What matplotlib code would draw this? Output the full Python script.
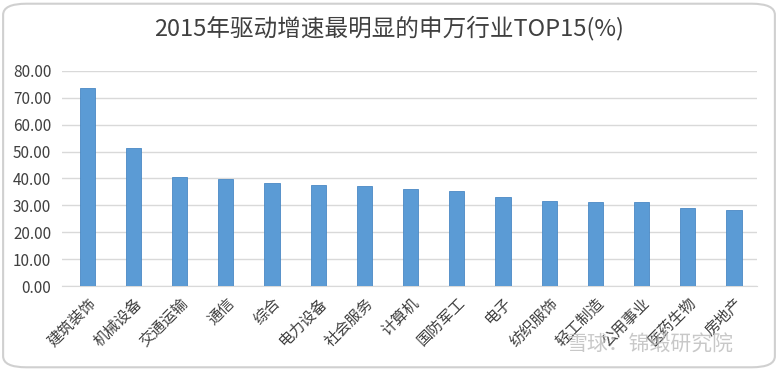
import matplotlib
matplotlib.use('Agg')
import matplotlib.pyplot as plt
from matplotlib.patches import FancyBboxPatch

plt.rcParams['font.family'] = ['Noto Sans CJK SC', 'DejaVu Sans']

# 申万行业及驱动增速(%)
industries = ['建筑装饰', '机械设备', '交通运输', '通信', '综合', '电力设备', '社会服务',
              '计算机', '国防军工', '电子', '纺织服饰', '轻工制造', '公用事业', '医药生物', '房地产']
growth = [73.8, 51.2, 40.5, 39.9, 38.4, 37.6, 37.2, 36.1, 35.4, 33.0, 31.7, 31.3, 31.3, 29.0, 28.1]
yticks = [0, 10, 20, 30, 40, 50, 60, 70, 80]

fig = plt.figure(figsize=(7.78, 3.71), dpi=100)

# 圆角外框
frame = FancyBboxPatch((0.004, 0.01), 0.992, 0.98, boxstyle='round,pad=0,rounding_size=0.03',
                       transform=fig.transFigure, facecolor='white', edgecolor='#d0d0d0',
                       linewidth=1.5, zorder=-5)
fig.patches.append(frame)

ax = fig.add_axes([0.08, 0.229, 0.893, 0.58])
ax.set_zorder(2)
ax.set_facecolor('none')
x = range(len(industries))
ax.bar(x, growth, width=0.33, color='#5b9bd5', edgecolor='#4a89c4', linewidth=0.6, zorder=3)

ax.set_ylim(0, 80)
ax.set_xlim(-0.54, 14.5)
ax.set_yticks(yticks)
ax.set_yticklabels([f'{v:.2f}' for v in yticks], fontsize=11, color='#404040')
ax.set_xticks(list(x))
ax.set_xticklabels(industries, rotation=45, ha='right', va='top', rotation_mode='anchor',
                   fontsize=11, color='#404040')
ax.tick_params(axis='y', length=0, pad=8)
ax.tick_params(axis='x', length=0, pad=6)
ax.grid(axis='y', color='#d9d9d9', linewidth=1, zorder=0)
for s in ['top', 'right', 'left']:
    ax.spines[s].set_visible(False)
ax.spines['bottom'].set_color('#d9d9d9')

fig.text(0.5, 0.925, '2015年驱动增速最明显的申万行业TOP15(%)', ha='center', va='center',
         fontsize=17, color='#404040')

# 水印
fig.text(0.835, 0.07, '雪球：锦缎研究院', ha='center', va='center', fontsize=15,
         color='#bbbbbb', alpha=0.8, zorder=10)

fig.savefig('out.png', dpi=100)
